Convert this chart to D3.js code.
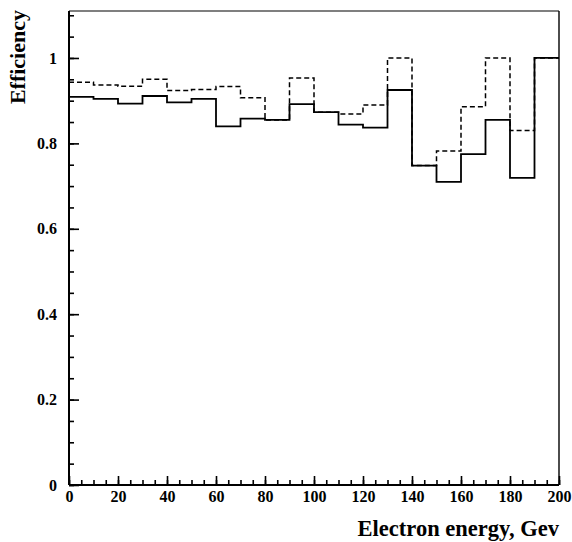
<!DOCTYPE html>
<html>
<head>
<meta charset="utf-8">
<script src="https://cdn.jsdelivr.net/npm/d3@7"></script>
<style>
body{margin:0;background:#fff;}
svg text{font-family:"Liberation Serif","Times New Roman",serif;font-weight:bold;fill:#000;}
.axis path{display:none;}
.axis line{stroke:#000;stroke-width:1.6;}
.axis text{font-size:16px;}
</style>
</head>
<body>
<div id="chart"></div>
<script>
// bin starts (GeV), each bin 10 GeV wide
let binStart=[0,10,20,30,40,50,60,70,80,90,100,110,120,130,140,150,160,170,180,190];
let binEnd=200;
// solid histogram
let effSolid=[0.909,0.904,0.893,0.911,0.896,0.904,0.840,0.858,0.855,0.892,0.873,0.844,0.837,0.925,0.748,0.710,0.775,0.855,0.719,1.0];
// dashed histogram
let effDashed=[0.943,0.937,0.934,0.950,0.924,0.926,0.933,0.907,0.855,0.953,0.873,0.869,0.890,1.0,0.748,0.782,0.886,1.0,0.830,1.0];
let xTicks=[0,20,40,60,80,100,120,140,160,180,200];
let yTicks=[0,0.2,0.4,0.6,0.8,1];
let yTickLabels=["0","0.2","0.4","0.6","0.8","1"];

let width=572;
let height=542;
let margin={top:11,right:13,bottom:57,left:69};

let chart=d3.select("#chart")
.append("svg")
.attr("width",width)
.attr("height",height);

let xscale=d3.scaleLinear().domain([0,200]).range([margin.left,width-margin.right]);
let yscale=d3.scaleLinear().domain([0,1.11]).range([height-margin.bottom,margin.top]);

// minor ticks
chart.append("g")
.attr("class","axis")
.attr("transform","translate("+margin.left+",0)")
.call(d3.axisLeft(yscale).tickValues(d3.range(0,1.11,0.05)).tickSize(-5).tickFormat(""));
chart.append("g")
.attr("class","axis")
.attr("transform","translate(0,"+(height-margin.bottom)+")")
.call(d3.axisBottom(xscale).tickValues(d3.range(0,201,5)).tickSize(-5).tickFormat(""));

// major ticks with labels
chart.append("g")
.attr("class","axis")
.attr("transform","translate("+margin.left+",0)")
.call(d3.axisLeft(yscale).tickValues(yTicks).tickSize(-10).tickPadding(12)
  .tickFormat(function(d,i){return yTickLabels[i];}));
chart.append("g")
.attr("class","axis")
.attr("transform","translate(0,"+(height-margin.bottom)+")")
.call(d3.axisBottom(xscale).tickValues(xTicks).tickSize(-9).tickPadding(6).tickFormat(d3.format("d")));

// frame
let x0=xscale(0),x1=xscale(200),y0=yscale(0),y1=yscale(1.11);
chart.append("line").attr("x1",x0).attr("x2",x1).attr("y1",y1).attr("y2",y1).attr("stroke","#000").attr("stroke-width",1.2);
chart.append("line").attr("x1",x1).attr("x2",x1).attr("y1",y1).attr("y2",y0).attr("stroke","#000").attr("stroke-width",1.4);
chart.append("line").attr("x1",x0).attr("x2",x0).attr("y1",y1).attr("y2",y0).attr("stroke","#000").attr("stroke-width",2);
chart.append("line").attr("x1",x0).attr("x2",x1).attr("y1",y0).attr("y2",y0).attr("stroke","#000").attr("stroke-width",2);

// step histograms
function steps(values){
  let pts=binStart.map(function(b,i){return [b,values[i]];});
  pts.push([binEnd,values[values.length-1]]);
  return pts;
}
let line=d3.line()
.x(function(d){return xscale(d[0]);})
.y(function(d){return yscale(d[1]);})
.curve(d3.curveStepAfter);

chart.append("path")
.attr("d",line(steps(effDashed)))
.attr("fill","none")
.attr("stroke","#000")
.attr("stroke-width",1.5)
.attr("stroke-dasharray","5,3");

chart.append("path")
.attr("d",line(steps(effSolid)))
.attr("fill","none")
.attr("stroke","#000")
.attr("stroke-width",1.8);

// titles
chart.append("text").text("Electron energy, Gev")
.attr("x",x1)
.attr("y",536)
.attr("text-anchor","end")
.style("font-size","22.5px");

chart.append("text").text("Efficiency")
.attr("transform","translate(25,10) rotate(-90)")
.attr("text-anchor","end")
.style("font-size","22px");
</script>
</body>
</html>
